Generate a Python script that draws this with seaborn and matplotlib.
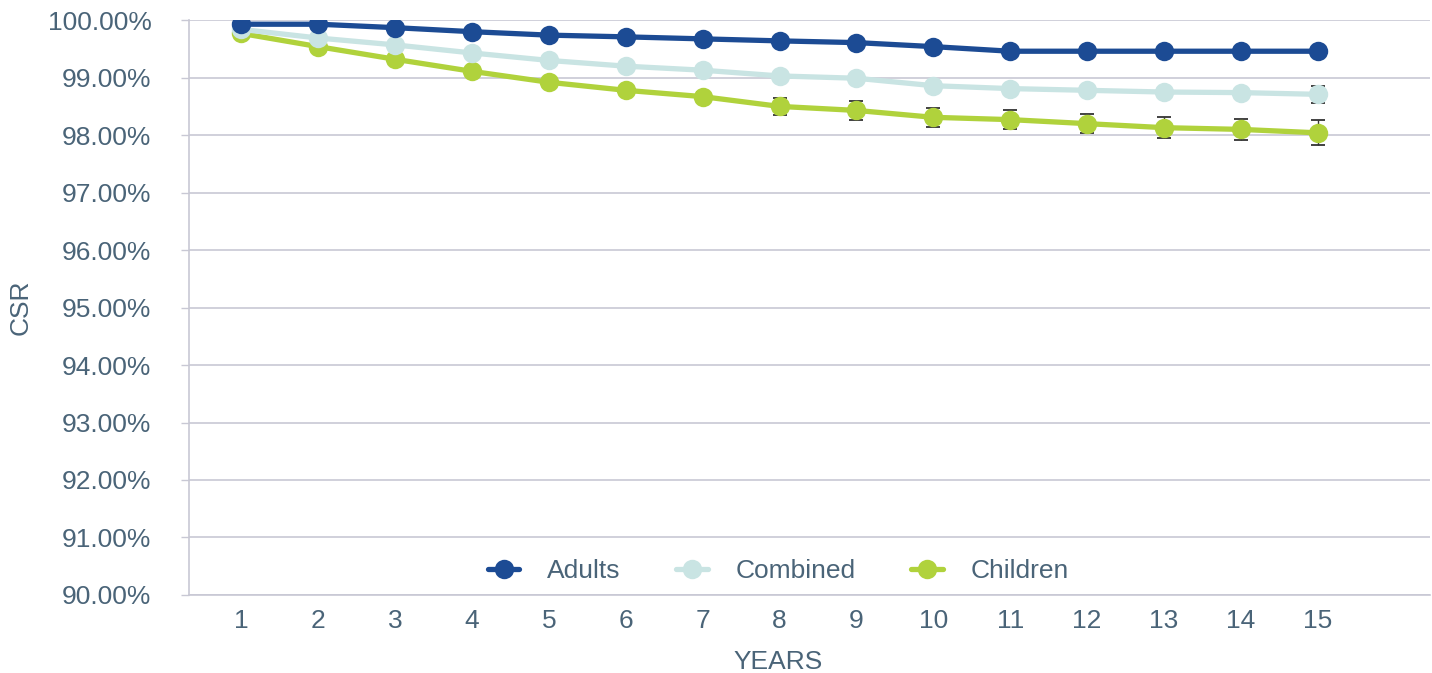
import matplotlib
matplotlib.use("Agg")
import matplotlib.pyplot as plt
import seaborn as sns
import pandas as pd
import numpy as np
from matplotlib.lines import Line2D
from matplotlib.ticker import FuncFormatter

years = list(range(1, 16))
adults = [99.93, 99.93, 99.87, 99.80, 99.74, 99.71, 99.675, 99.64, 99.61, 99.54,
          99.46, 99.46, 99.46, 99.46, 99.46]
combined = [99.84, 99.69, 99.57, 99.43, 99.30, 99.20, 99.13, 99.03, 98.99, 98.86,
            98.81, 98.78, 98.75, 98.74, 98.71]
children = [99.77, 99.54, 99.32, 99.11, 98.92, 98.78, 98.67, 98.50, 98.43, 98.31,
            98.27, 98.20, 98.13, 98.10, 98.04]
children_err = [0.01, 0.02, 0.03, 0.04, 0.05, 0.06, 0.08, 0.15, 0.16, 0.16,
                0.17, 0.17, 0.185, 0.185, 0.22]
combined_err = [0, 0, 0, 0, 0, 0, 0, 0, 0, 0, 0, 0, 0, 0, 0.15]
series_names = ["Adults", "Combined", "Children"]
colors = {"Adults": "#1c4b94", "Combined": "#c9e4e3", "Children": "#b0d23c"}
yticks = [90, 91, 92, 93, 94, 95, 96, 97, 98, 99, 100]

text_color = "#4a6478"
grid_color = "#c8c8d4"
fs = 19

sns.set_style("white")
plt.rcParams["font.family"] = ["Liberation Sans", "DejaVu Sans"]

fig = plt.figure(figsize=(14.32, 6.73), dpi=100)
ax = fig.add_axes([0.132, 0.116, 0.8666, 0.854])

df = pd.DataFrame({
    "year": years * 3,
    "csr": adults + combined + children,
    "series": ["Adults"] * 15 + ["Combined"] * 15 + ["Children"] * 15,
})

# error bars first (under markers)
ax.errorbar(years, children, yerr=children_err, fmt="none", ecolor="#333333",
            elinewidth=1.0, capsize=5, capthick=1.3, zorder=2)
ax.errorbar(years, combined, yerr=combined_err, fmt="none", ecolor="#333333",
            elinewidth=1.0, capsize=5, capthick=1.3, zorder=2)

for i, name in enumerate(["Children", "Combined", "Adults"]):
    sub = df[df["series"] == name]
    sns.lineplot(data=sub, x="year", y="csr", ax=ax, color=colors[name],
                 linewidth=3.8, marker="o", markersize=14, markeredgewidth=0,
                 zorder=3 + i, legend=False)

ax.set_ylim(90, 100)
ax.set_xlim(0.32, 16.46)
ax.set_yticks(yticks)
ax.yaxis.set_major_formatter(FuncFormatter(lambda v, p: f"{v:.2f}%"))
ax.set_xticks(years)
ax.set_xticklabels([str(y) for y in years])

ax.grid(axis="y", color=grid_color, linewidth=1.2)
ax.grid(axis="x", visible=False)
ax.set_axisbelow(True)
for s in ["top", "right"]:
    ax.spines[s].set_visible(False)
for s in ["left", "bottom"]:
    ax.spines[s].set_color(grid_color)
    ax.spines[s].set_linewidth(1.2)

ax.tick_params(axis="y", colors=text_color, labelsize=fs, length=6, width=1,
               color=grid_color, pad=21, left=True)
ax.tick_params(axis="x", colors=text_color, labelsize=fs, length=0, pad=10)
for lbl in ax.get_yticklabels() + ax.get_xticklabels():
    lbl.set_color(text_color)

ax.set_xlabel("YEARS", color=text_color, fontsize=fs)
ax.xaxis.set_label_coords(0.475, -0.095)
ax.set_ylabel("CSR", color=text_color, fontsize=fs, labelpad=11)

handles = [Line2D([0], [0], color=colors[n], linewidth=3.8, marker="o",
                  markersize=14, markeredgewidth=0) for n in series_names]
leg = ax.legend(handles, series_names, loc="center", bbox_to_anchor=(0.475, 0.041),
                ncol=3, frameon=False, fontsize=fs, handlelength=1.2,
                columnspacing=2.1, handletextpad=1.06)
for t in leg.get_texts():
    t.set_color(text_color)

fig.savefig("out.png", dpi=100, facecolor="white")
